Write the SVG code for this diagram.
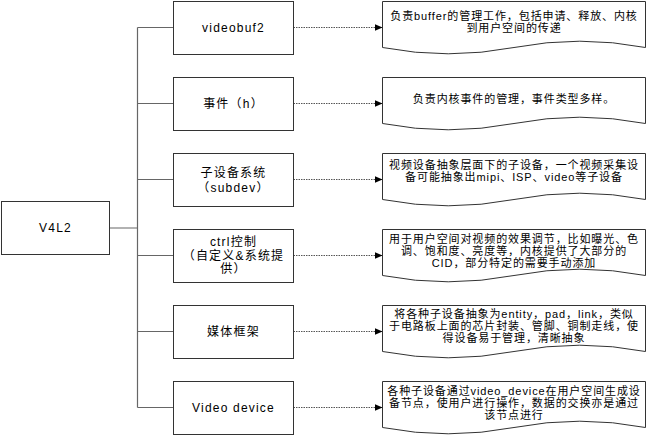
<svg xmlns="http://www.w3.org/2000/svg" xmlns:xlink="http://www.w3.org/1999/xlink" width="648" height="436" viewBox="0 0 648 436">
<style>
text{font-family:"Liberation Sans","Noto Sans CJK SC",sans-serif;fill:#000;text-anchor:middle;dominant-baseline:central}
.mid{font-size:12px;letter-spacing:1.2px}
.doc{font-size:11px;letter-spacing:0.9px}
.box{fill:#fff;stroke:#333;stroke-width:1}
.tree{fill:none;stroke:#666;stroke-width:1.2}
.dot{fill:none;stroke:#555;stroke-width:1;stroke-dasharray:1.5 1}
</style>
<defs>
<marker id="ah" viewBox="0 0 8 8" refX="8" refY="4" markerWidth="8" markerHeight="8" markerUnits="userSpaceOnUse" orient="auto">
<path d="M0,0.5 L8,4 L0,7.5 Z" fill="#000"/>
</marker>
<path id="docshape" d="M0,0 H263 V46 Q197.25,33.4 131.5,46 Q65.75,58.6 0,46 Z"/>
</defs>
<rect width="648" height="436" fill="#fff"/>
<g id="connectors">
<path class="tree" d="M109.5,228 H137.5 M137.5,27.5 V407.5 M137.5,27.5 H173.5 M137.5,103.5 H173.5 M137.5,179.5 H173.5 M137.5,255.5 H173.5 M137.5,331.5 H173.5 M137.5,407.5 H173.5"/>
<path class="dot" marker-end="url(#ah)" d="M293.5,27.5 H382.5"/>
<path class="dot" marker-end="url(#ah)" d="M293.5,103.5 H382.5"/>
<path class="dot" marker-end="url(#ah)" d="M293.5,179.5 H382.5"/>
<path class="dot" marker-end="url(#ah)" d="M293.5,255.5 H382.5"/>
<path class="dot" marker-end="url(#ah)" d="M293.5,331.5 H382.5"/>
<path class="dot" marker-end="url(#ah)" d="M293.5,407.5 H382.5"/>
</g>
<g id="v4l2">
<rect class="box" x="1.5" y="201.5" width="108" height="53"/>
<text class="mid" x="55.5" y="228">V4L2</text>
</g>
<g id="n-videobuf2">
<rect class="box" x="173.5" y="1.5" width="120" height="53"/>
<text class="mid" x="233.5" y="28">videobuf2</text>
</g>
<g id="n-event">
<rect class="box" x="173.5" y="77.5" width="120" height="53"/>
<text class="mid" x="233.5" y="104">事件（h）</text>
</g>
<g id="n-subdev">
<rect class="box" x="173.5" y="153.5" width="120" height="53"/>
<text class="mid" x="233.5" y="173">子设备系统</text>
<text class="mid" x="233.5" y="188">（subdev）</text>
</g>
<g id="n-ctrl">
<rect class="box" x="173.5" y="229.5" width="120" height="53"/>
<text class="mid" x="233.5" y="242">ctrl控制</text>
<text class="mid" x="233.5" y="255.5">（自定义&amp;系统提</text>
<text class="mid" x="233.5" y="269">供）</text>
</g>
<g id="n-media">
<rect class="box" x="173.5" y="305.5" width="120" height="53"/>
<text class="mid" x="233.5" y="332">媒体框架</text>
</g>
<g id="n-videodev">
<rect class="box" x="173.5" y="381.5" width="120" height="53"/>
<text class="mid" x="233.5" y="408">Video device</text>
</g>
<g id="d-videobuf2">
<use xlink:href="#docshape" class="box" transform="translate(382.5,1.5)"/>
<text class="doc" x="514" y="16">负责buffer的管理工作，包括申请、释放、内核</text>
<text class="doc" x="514" y="28">到用户空间的传递</text>
</g>
<g id="d-event">
<use xlink:href="#docshape" class="box" transform="translate(382.5,77.5)"/>
<text class="doc" x="514" y="98.5">负责内核事件的管理，事件类型多样。</text>
</g>
<g id="d-subdev">
<use xlink:href="#docshape" class="box" transform="translate(382.5,153.5)"/>
<text class="doc" x="514" y="165">视频设备抽象层面下的子设备，一个视频采集设</text>
<text class="doc" x="514" y="177">备可能抽象出mipi、ISP、video等子设备</text>
</g>
<g id="d-ctrl">
<use xlink:href="#docshape" class="box" transform="translate(382.5,229.5)"/>
<text class="doc" x="514" y="239">用于用户空间对视频的效果调节，比如曝光、色</text>
<text class="doc" x="514" y="251">调、饱和度、亮度等，内核提供了大部分的</text>
<text class="doc" x="514" y="263">CID，部分特定的需要手动添加</text>
</g>
<g id="d-media">
<use xlink:href="#docshape" class="box" transform="translate(382.5,305.5)"/>
<text class="doc" x="514" y="313.5">将各种子设备抽象为entity，pad，link，类似</text>
<text class="doc" x="514" y="325.5">于电路板上面的芯片封装、管脚、铜制走线，使</text>
<text class="doc" x="514" y="337.5">得设备易于管理，清晰抽象</text>
</g>
<g id="d-videodev">
<use xlink:href="#docshape" class="box" transform="translate(382.5,381.5)"/>
<text class="doc" x="514" y="390.5">各种子设备通过video_device在用户空间生成设</text>
<text class="doc" x="514" y="402.5">备节点，使用户进行操作，数据的交换亦是通过</text>
<text class="doc" x="514" y="414.5">该节点进行</text>
</g>
</svg>
